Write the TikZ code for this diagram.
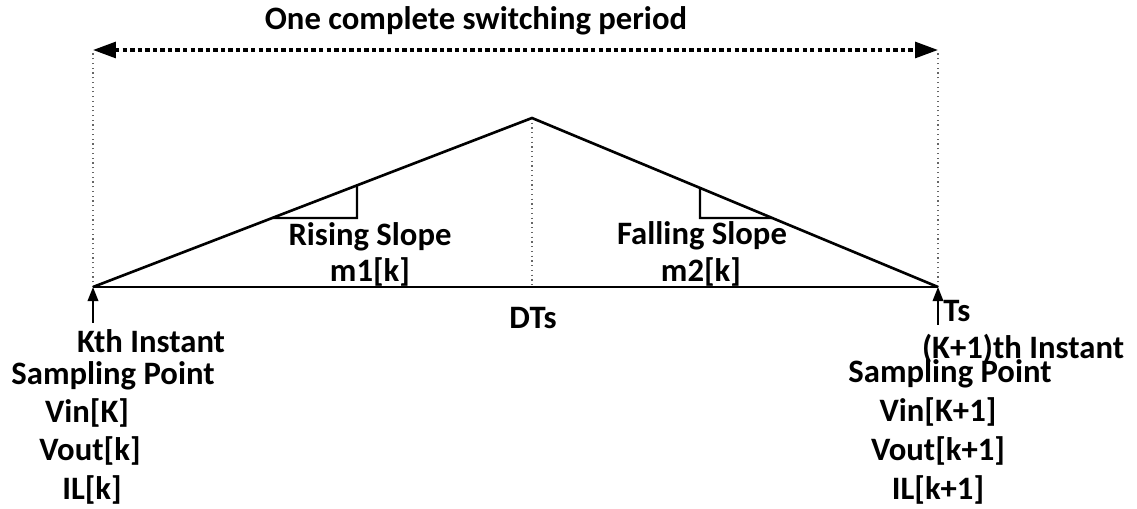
\documentclass[tikz,border=0pt]{standalone}
\usepackage{fontspec}
\setmainfont{Carlito}
\usetikzlibrary{arrows.meta,calc}
\begin{document}
\begin{tikzpicture}[x=0.02cm,y=-0.02cm,
  lbl/.style={font=\fontsize{18.6}{21}\selectfont\bfseries,inner sep=0pt,text=black},
  wave/.style={line width=1.5pt,line join=miter},
  guide/.style={dotted,line width=0.7pt,gray!80!black},
  period/.style={line width=1.8pt,dash pattern=on 2.5pt off 1.8pt,{Triangle[length=13pt,width=9pt]}-{Triangle[length=13pt,width=9pt]}},
  samp/.style={line width=1pt,-{Triangle[length=8pt,width=6pt]}},
  tri/.style={line width=1.2pt}]
\useasboundingbox (0,0) rectangle (1137,509);
% key points
\coordinate (A) at (93,287);
\coordinate (B) at (938,287);
\coordinate (C) at (532,118);
\coordinate (Atop) at (93,50);
\coordinate (Btop) at (938,50);
\coordinate (Cbot) at (532,287);
\coordinate (Aarr) at (93,323);
\coordinate (Barr) at (938,325);
% guides
\draw[guide] (A) -- (Atop);
\draw[guide] (B) -- (Btop);
\draw[guide] (C) -- (Cbot);
% period arrow
\draw[period] (Atop) -- (Btop);
\node[lbl] (title) at (476,21) {One complete switching period};
% waveform
\draw[wave] (A) -- (C) -- (B);
\draw[wave] (A) -- (B);
% slope triangles
\coordinate (r1) at ($(A)!{(357-93)/439}!(C)$);
\coordinate (r2) at (357,218);
\coordinate (r3) at ($(A)!{(218-287)/(118-287)}!(C)$);
\draw[tri] (r1) -- (r2) -- (r3);
\coordinate (f1) at ($(C)!{(700-532)/406}!(B)$);
\coordinate (f2) at (700,218);
\coordinate (f3) at ($(C)!{(218-118)/169}!(B)$);
\draw[tri] (f1) -- (f2) -- (f3);
\node[lbl] (rs) at (370,237) {Rising Slope};
\node[lbl] (m1) at (370,272) {m1[k]};
\node[lbl] (fs) at (702,236) {Falling Slope};
\node[lbl] (m2) at (701,272) {m2[k]};
\node[lbl] (dts) at (533,318) {DTs};
% sampling arrows
\draw[samp] (Aarr) -- (A);
\draw[samp] (Barr) -- (B);
% left labels
\node[lbl] (kth) at (151,341) {Kth Instant};
\node[lbl] (sp1) at (113,376) {Sampling Point};
\node[lbl] (vin1) at (87,413) {Vin[K]};
\node[lbl] (vout1) at (90,451) {Vout[k]};
\node[lbl] (il1) at (92,490) {IL[k]};
% right labels
\node[lbl,anchor=west] (ts) at (943,311) {Ts};
\node[lbl] (k1th) at (1023,349) {(K+1)th Instant};
\node[lbl] (sp2) at (950,374) {Sampling Point};
\node[lbl] (vin2) at (938,412) {Vin[K+1]};
\node[lbl] (vout2) at (938,451) {Vout[k+1]};
\node[lbl] (il2) at (938,490) {IL[k+1]};
\end{tikzpicture}
\end{document}
